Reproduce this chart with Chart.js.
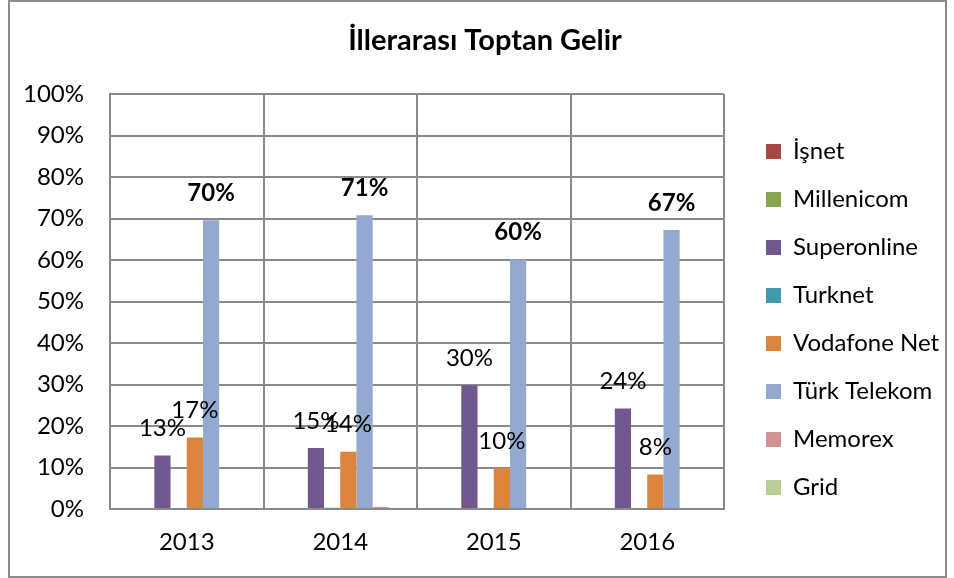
<!DOCTYPE html>
<html lang="tr">
<head>
<meta charset="utf-8">
<title>İllerarası Toptan Gelir</title>
<script src="https://cdn.jsdelivr.net/npm/chart.js"></script>
<style>
  body { margin: 0; background: #fff; }
  canvas { display: block; }
</style>
</head>
<body>
<canvas id="grafico" width="954" height="578"></canvas>
<script>
// dados (percentual)
const anos = ["2013", "2014", "2015", "2016"];
const operadoras = ["İşnet", "Millenicom", "Superonline", "Turknet", "Vodafone Net", "Türk Telekom", "Memorex", "Grid"];
const isnet = [0, 0, 0, 0];
const millenicom = [0, 0, 0, 0];
const superonline = [12.9, 14.7, 29.8, 24.2];
const turknet = [0, 0.3, 0, 0];
const vodafone = [17.2, 13.8, 9.9, 8.3];
const turkTelekom = [69.6, 70.8, 60.1, 67.2];
const memorex = [0.2, 0.5, 0, 0];
const grid = [0, 0, 0, 0];
const cores = ["#AA4643", "#89A54E", "#71588F", "#4198AF", "#DB843D", "#93A9CF", "#D19392", "#B9CD96"];
const ticksY = [0, 10, 20, 30, 40, 50, 60, 70, 80, 90, 100];

const fonte = "Lato";
const tamanho = 24;
const cinza = "#8a8a8a";

const valores = [isnet, millenicom, superonline, turknet, vodafone, turkTelekom, memorex, grid];
// series que mostram o rotulo de valor, e as que ficam em negrito
const comRotulo = [2, 4, 5];
const negrito = [5];

// largura da legenda: mede o texto mais largo
const medidor = document.createElement("canvas").getContext("2d");
medidor.font = tamanho + "px " + fonte;
let maiorTexto = 0;
operadoras.forEach((nome) => {
  maiorTexto = Math.max(maiorTexto, medidor.measureText(nome).width);
});
const larguraLegenda = 212;
const sobraDireita = Math.max(0, larguraLegenda - (24 + 15 + tamanho / 2 + maiorTexto + 10));
// titulo um pouco deslocado para a direita
const sobraEsquerda = 16 + sobraDireita;

const rotulos = {
  id: "rotulos",
  afterDatasetsDraw(chart) {
    const ctx = chart.ctx;
    ctx.save();
    ctx.fillStyle = "#000";
    ctx.textAlign = "center";
    ctx.textBaseline = "middle";
    comRotulo.forEach((d) => {
      const meta = chart.getDatasetMeta(d);
      ctx.font = (negrito.includes(d) ? "bold " : "") + tamanho + "px " + fonte;
      meta.data.forEach((bar, i) => {
        const v = chart.data.datasets[d].data[i];
        ctx.fillText(Math.round(v) + "%", bar.x, bar.y - 27);
      });
    });
    ctx.restore();
  },
};

const moldura = {
  id: "moldura",
  afterDraw(chart) {
    const ctx = chart.ctx;
    ctx.save();
    ctx.strokeStyle = "#8c8c8c";
    ctx.lineWidth = 2;
    ctx.strokeRect(9, 1, 937, 576);
    ctx.restore();
  },
};

const data1 = {
  labels: anos,
  datasets: operadoras.map((nome, i) => ({
    label: nome,
    data: valores[i],
    backgroundColor: cores[i],
    borderWidth: 0,
    categoryPercentage: 0.845,
    barPercentage: 1.0,
  })),
};

const options1 = {
  responsive: false,
  animation: false,
  layout: { padding: { left: sobraEsquerda, right: sobraDireita, top: 0, bottom: 0 } },
  scales: {
    y: {
      min: 0,
      max: 100,
      afterBuildTicks: (scale) => {
        scale.ticks = ticksY.map((v) => ({ value: v }));
      },
      afterFit: (scale) => {
        scale.width = 110 - sobraEsquerda;
      },
      ticks: {
        padding: 26,
        color: "#000",
        font: { family: fonte, size: tamanho },
        callback: (v) => v + "%",
      },
      grid: { color: cinza, lineWidth: 2, drawTicks: false },
      border: { color: cinza, width: 2 },
    },
    yDir: {
      position: "right",
      display: true,
      afterFit: (scale) => {
        scale.width = 18;
      },
      ticks: { display: false },
      grid: { display: false },
      border: { display: false },
    },
    x: {
      afterFit: (scale) => {
        scale.height = 69;
      },
      ticks: {
        padding: 19,
        color: "#000",
        font: { family: fonte, size: tamanho },
      },
      grid: { color: cinza, lineWidth: 2, drawTicks: false },
      border: { color: cinza, width: 2 },
    },
  },
  plugins: {
    title: {
      display: true,
      text: "İllerarası Toptan Gelir",
      color: "#000",
      font: { family: fonte, size: 29, weight: "bold", lineHeight: 1.2 },
      padding: { top: 23, bottom: 36.2 },
    },
    legend: {
      position: "right",
      align: "start",
      maxWidth: larguraLegenda,
      title: {
        display: true,
        text: " ",
        font: { size: 10, lineHeight: 1 },
        padding: { top: 105.5, bottom: 0 },
      },
      labels: {
        boxWidth: 15,
        boxHeight: 15,
        padding: 24,
        color: "#000",
        font: { family: fonte, size: tamanho },
      },
    },
    tooltip: { enabled: false },
  },
};

const ctx1 = document.getElementById("grafico").getContext("2d");
const myChart1 = new Chart(ctx1, {
  type: "bar",
  data: data1,
  options: options1,
  plugins: [rotulos, moldura],
});
</script>
</body>
</html>
